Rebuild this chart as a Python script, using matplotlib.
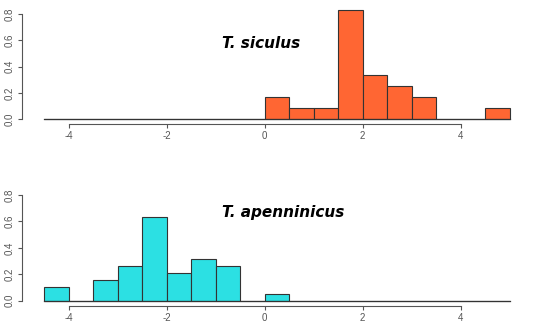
import matplotlib.pyplot as plt
import numpy as np

# bin edges shared by both histograms (R style, width 0.5)
edges = np.arange(-4.5, 5.01, 0.5)

# densities
siculus = [0, 0, 0, 0, 0, 0, 0, 0, 0, 0.167, 0.083, 0.083, 0.833, 0.333, 0.25, 0.167, 0, 0, 0.083]
apenninicus = [0.105, 0, 0.158, 0.263, 0.632, 0.21, 0.316, 0.263, 0, 0.053, 0, 0, 0, 0, 0, 0, 0, 0, 0]

x_ticks = [-4, -2, 0, 2, 4]
y_ticks = [0.0, 0.2, 0.4, 0.6, 0.8]

fig = plt.figure(figsize=(5.5, 3.24), dpi=100)
ax1 = fig.add_axes([0.08, 0.6327, 0.847, 0.3232])
ax2 = fig.add_axes([0.08, 0.0719, 0.847, 0.3262])

def r_hist(ax, dens, col, label, tx, ty):
    w = np.diff(edges)
    ax.bar(edges[:-1], dens, width=w, align='edge', color=col,
           edgecolor='#333333', linewidth=0.8, clip_on=False)
    ax.plot([edges[0], edges[-1]], [0, 0], color='#333333', lw=0.9, clip_on=False)
    ax.set_xlim(-4.5, 5)
    ax.set_ylim(0, 0.8)
    for s in ['top', 'right']:
        ax.spines[s].set_visible(False)
    ax.spines['left'].set_position(('outward', 16))
    ax.spines['bottom'].set_position(('outward', 3.6))
    ax.spines['left'].set_bounds(0, 0.8)
    ax.spines['bottom'].set_bounds(-4, 4)
    ax.spines['left'].set_color('#555555')
    ax.spines['bottom'].set_color('#555555')
    ax.set_xticks(x_ticks)
    ax.set_xticklabels(['-4', '-2', '0', '2', '4'], family='Liberation Sans')
    ax.set_yticks(y_ticks)
    ax.set_yticklabels(['0.0', '0.2', '0.4', '0.6', '0.8'], rotation=90, va='center',
                       family='Liberation Sans')
    ax.tick_params(colors='#555555', labelsize=7, length=3, width=0.8, pad=2)
    fig.text(tx, ty, label, fontsize=11, fontweight='bold', fontstyle='italic',
             ha='left', va='center')

r_hist(ax1, siculus, '#FF6633', 'T. siculus', 222/550, 1 - 44/324)
r_hist(ax2, apenninicus, '#2CE0E3', 'T. apenninicus', 222/550, 1 - 213/324)

fig.savefig('out.png', dpi=100)
